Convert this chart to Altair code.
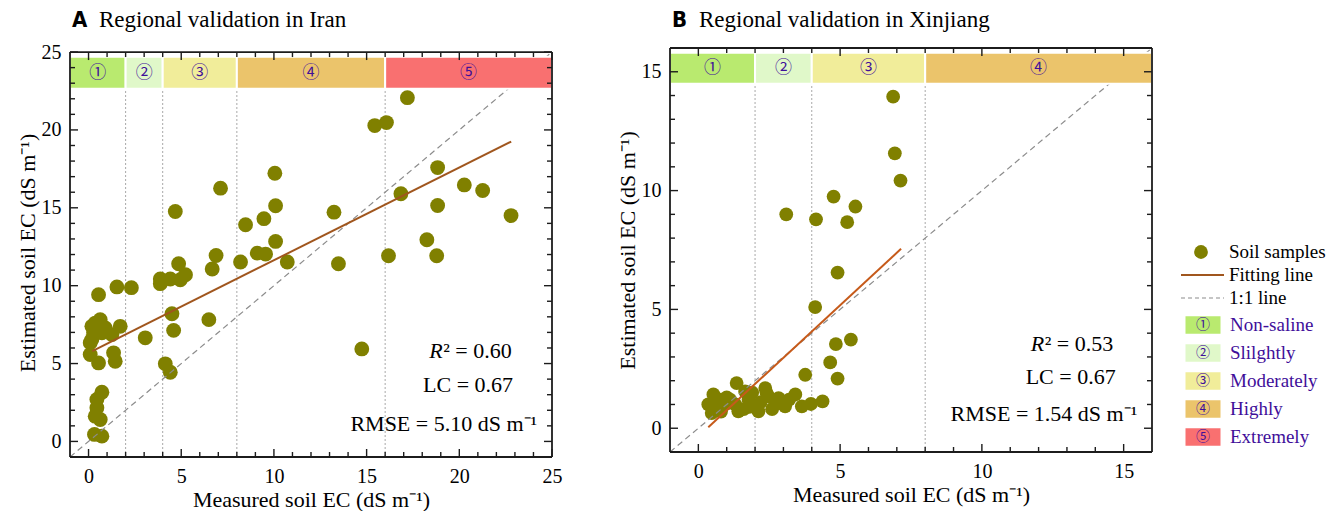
import altair as alt
import pandas as pd

# ---------------- data ----------------
# Panel A (Iran): measured vs estimated soil EC
a_meas = [17.2, 15.44, 16.07, 18.83, 20.27, 21.26, 16.85, 18.83, 22.79, 10.05,
          7.12, 10.09, 13.24, 4.68, 9.46, 8.47, 18.25, 10.09, 6.88, 6.67,
          8.2, 9.1, 9.55, 10.72, 16.18, 13.48, 18.78, 4.86, 5.23, 4.95,
          4.41, 3.87, 3.87, 1.53, 2.31, 0.54, 4.5, 4.59, 6.49, 3.06,
          14.74, 4.14, 4.41, 0.09, 0.09, 0.54, 1.35, 1.44, 0.18, 0.63,
          0.72, 1.26, 1.71, 0.36, 0.27, 0.9, 0.18, 0.72, 0.45, 0.45,
          0.36, 0.63, 0.32, 0.72]
a_est = [22.07, 20.28, 20.47, 17.58, 16.47, 16.11, 15.9, 15.15, 14.5, 17.22,
         16.26, 15.13, 14.72, 14.76, 14.3, 13.91, 12.95, 12.84, 11.94, 11.07,
         11.52, 12.09, 12.03, 11.52, 11.92, 11.41, 11.92, 11.41, 10.7, 10.38,
         10.43, 10.43, 10.13, 9.92, 9.87, 9.42, 8.2, 7.13, 7.82, 6.65,
         5.94, 4.98, 4.44, 6.33, 5.58, 5.04, 5.69, 5.15, 7.39, 7.82,
         6.97, 6.86, 7.39, 7.6, 6.97, 7.29, 6.54, 3.16, 2.69, 2.16,
         1.62, 1.41, 0.45, 0.34]

# Panel B (Xinjiang)
b_meas = [6.87, 6.93, 7.13, 4.77, 5.54, 3.1, 4.15, 5.25, 4.91, 4.12,
          5.38, 4.85, 4.65, 3.77, 4.91, 4.38, 3.97, 3.65, 3.42, 1.35,
          0.53, 0.35, 0.47, 0.94, 1.41, 1.77, 2.36, 2.12, 2.71, 2.47,
          3.06, 1.65, 0.77, 2.0, 1.12, 2.83, 0.6, 1.0, 1.6, 1.9,
          2.2, 2.6, 2.9, 3.2, 1.3, 0.8, 2.4, 1.8]
b_est = [13.95, 11.57, 10.42, 9.75, 9.33, 9.0, 8.79, 8.67, 6.55, 5.1,
         3.73, 3.54, 2.77, 2.25, 2.09, 1.13, 1.02, 0.92, 1.42, 1.9,
         1.42, 1.0, 0.64, 1.0, 0.71, 1.2, 1.69, 0.71, 1.0, 1.34,
         0.92, 1.55, 1.2, 0.92, 1.2, 1.27, 0.9, 1.3, 0.8, 1.5,
         1.1, 0.8, 1.1, 1.2, 1.0, 0.7, 1.5, 0.9]

a_fit_x = [0.2, 22.8]
a_fit_y = [5.8, 19.25]
b_fit_x = [0.35, 7.15]
b_fit_y = [0.04, 7.55]

class_names = ["Non-saline", "Slilghtly", "Moderately", "Highly", "Extremely"]
class_marks = ["\u2460", "\u2461", "\u2462", "\u2463", "\u2464"]
class_colors = ["#b9ea6f", "#e0f8c9", "#f1ed9a", "#ebc46b", "#f97070"]
class_bounds = [-1, 2, 4, 8, 16, 25]

a_stats = ["0.60", "0.67", "5.10"]
b_stats = ["0.53", "0.67", "1.54"]

SERIF = "Liberation Serif"
CJK = "Noto Sans CJK SC"
PURPLE = "#3f0f9a"
OLIVE = "#808000"
GREY = "#8c8c8c"
INK = "#1c1c1c"
W = 482


def panel(meas, est, fit_x, fit_y, lim, ytop, height, nclass, band_y, stats, stat_pos,
          title, letter, pt_size, fit_color):
    xsc = alt.Scale(domain=[-1, lim], nice=False, zero=False)
    ysc = alt.Scale(domain=[-1, ytop], nice=False, zero=False)
    top = lim + 1 if lim == 25 else lim
    major = [v for v in range(0, top) if v % 5 == 0]
    minor = [v for v in range(0, top) if v % 5 != 0]
    lab_common = dict(values=major, ticks=False, tickSize=0, domain=False, grid=False,
                      labelFlush=False, labelOverlap=False, labelFont=SERIF,
                      labelFontSize=20, labelColor="black", titleFont=SERIF,
                      titleFontSize=22, titleFontWeight="normal", titleColor="black")
    ax_b = alt.Axis(orient="bottom", title="Measured soil EC (dS m\u207b\u00b9)",
                    labelPadding=9, titlePadding=3, **lab_common)
    ax_l = alt.Axis(orient="left", title="Estimated soil EC (dS m\u207b\u00b9)",
                    labelPadding=9, titlePadding=2, **lab_common)

    def X(f, axis=None):
        return alt.X(f, scale=xsc, axis=axis)

    def Y(f, axis=None):
        return alt.Y(f, scale=ysc, axis=axis)

    kx = (lim + 1.0) / W
    ky = (ytop + 1.0) / height  # data units per pixel

    # inward ticks on all four frame edges (positions through the scales)
    rows = []
    for vals, ln in ((major, 8), (minor, 5)):
        for v in vals:
            rows.append(dict(tx0=v, tx1=v, ty0=-1, ty1=-1 + ln * ky))
            rows.append(dict(tx0=v, tx1=v, ty0=lim, ty1=lim - ln * ky))
            rows.append(dict(tx0=-1, tx1=-1 + ln * kx, ty0=v, ty1=v))
            rows.append(dict(tx0=lim, tx1=lim - ln * kx, ty0=v, ty1=v))
    ticks = alt.Chart(pd.DataFrame(rows)).mark_rule(stroke=INK, strokeWidth=1.4).encode(
        x=X("tx0:Q"), x2="tx1:Q", y=Y("ty0:Q"), y2="ty1:Q")

    # frame: four edges from (-1,-1) to (lim,lim)
    edge = pd.DataFrame({"ex0": [-1, -1, -1, lim], "ex1": [lim, lim, -1, lim],
                         "ey0": [-1, lim, -1, -1], "ey1": [-1, lim, lim, lim]})
    frame = alt.Chart(edge).mark_rule(stroke=INK, strokeWidth=1.8).encode(
        x=X("ex0:Q"), x2="ex1:Q", y=Y("ey0:Q"), y2="ey1:Q")

    pts = pd.DataFrame({"meas": meas, "est": est})
    points = alt.Chart(pts).mark_circle(size=pt_size, color=OLIVE, opacity=1).encode(
        x=X("meas:Q", ax_b), y=Y("est:Q", ax_l))

    one = pd.DataFrame({"meas": [-1, lim], "est": [-1, lim]})
    oneline = alt.Chart(one).mark_line(color=GREY, strokeDash=[6, 4], strokeWidth=1.2).encode(
        x=X("meas:Q"), y=Y("est:Q"))

    fit = pd.DataFrame({"meas": fit_x, "est": fit_y})
    fitline = alt.Chart(fit).mark_line(color=fit_color, strokeWidth=2).encode(
        x=X("meas:Q"), y=Y("est:Q"))

    lo = class_bounds[:nclass]
    hi = class_bounds[1:nclass + 1]
    bands = pd.DataFrame({
        "lo": lo, "hi": hi, "mid": [(a + b) / 2 for a, b in zip(lo, hi)],
        "y0": [band_y[0]] * nclass, "y1": [band_y[1]] * nclass,
        "ym": [(band_y[0] + band_y[1]) / 2] * nclass,
        "color": class_colors[:nclass], "mark": class_marks[:nclass],
    })
    vl = pd.DataFrame({"b": class_bounds[1:nclass], "y0": [-1] * (nclass - 1),
                       "y1": [band_y[0]] * (nclass - 1)})
    vlines = alt.Chart(vl).mark_rule(color="#a8a8a8", strokeDash=[2, 2], strokeWidth=1).encode(
        x=X("b:Q"), y=Y("y0:Q"), y2="y1:Q")
    rects = alt.Chart(bands).mark_rect(stroke="white", strokeWidth=2).encode(
        x=X("lo:Q"), x2="hi:Q", y=Y("y0:Q"), y2="y1:Q",
        fill=alt.Fill("color:N", scale=None))
    nums = alt.Chart(bands).mark_text(font=CJK, fontSize=17, color=PURPLE).encode(
        x=X("mid:Q"), y=Y("ym:Q"), text="mark:N")

    rx, ry, lx, ly, mx, my = stat_pos
    r_df = pd.DataFrame({"x": [rx], "y": [ry], "t": ["R"], "u": ["\u00b2 = " + stats[0]]})
    r_it = alt.Chart(r_df).mark_text(font=SERIF, fontSize=22, fontStyle="italic",
                                     align="left", color="black").encode(
        x=X("x:Q"), y=Y("y:Q"), text="t:N")
    r_rest = alt.Chart(r_df).mark_text(font=SERIF, fontSize=22, align="left", dx=14,
                                       color="black").encode(
        x=X("x:Q"), y=Y("y:Q"), text="u:N")
    o_df = pd.DataFrame({"x": [lx, mx], "y": [ly, my],
                         "t": ["LC = " + stats[1], "RMSE = " + stats[2] + " dS m\u207b\u00b9"]})
    others = alt.Chart(o_df).mark_text(font=SERIF, fontSize=22, align="right",
                                       color="black").encode(
        x=X("x:Q"), y=Y("y:Q"), text="t:N")

    let = alt.Chart(pd.DataFrame({"t": [letter]})).mark_text(
        font="DejaVu Sans Condensed", fontSize=22, fontWeight="bold", align="left",
        baseline="middle", color="black").encode(
        x=alt.value(2), y=alt.value(-28), text="t:N")
    ttl = alt.Chart(pd.DataFrame({"t": [title]})).mark_text(
        font=SERIF, fontSize=23, align="left", baseline="middle", color="black").encode(
        x=alt.value(29), y=alt.value(-28), text="t:N")

    return alt.layer(
        vlines, points, oneline, fitline, rects, nums, ticks, frame,
        r_it, r_rest, others, let, ttl
    ).resolve_axis(x="independent", y="independent").properties(width=W, height=height)


# Panel A frame sits 4 px lower than panel B's in the reference
pa = panel(a_meas, a_est, a_fit_x, a_fit_y, 25, 25.26, 409, 5, (22.65, 24.7), a_stats,
           (18.38, 5.79, 22.9, 3.65, 24.2, 1.15),
           "Regional validation in Iran", "A", 220, "#a0561e")
pb = panel(b_meas, b_est, b_fit_x, b_fit_y, 16, 16, 404, 4, (14.5, 15.8), b_stats,
           (11.72, 3.53, 14.72, 2.14, 15.48, 0.59),
           "Regional validation in Xinjiang", "B", 190, "#c65a1a")

# ---------------- legend ----------------
leg_top = ["Soil samples", "Fitting line", "1:1 line"]
top_y = alt.Y("item:N", sort=leg_top, axis=None,
              scale=alt.Scale(type="point", domain=leg_top, padding=0, range=[204, 250]))
cls_y = alt.Y("name:N", sort=class_names, axis=None,
              scale=alt.Scale(type="point", domain=class_names, padding=0, range=[277, 389]))

l_circle = alt.Chart(pd.DataFrame({"item": [leg_top[0]]})).mark_circle(
    size=190, color=OLIVE, opacity=1).encode(x=alt.value(20), y=top_y)
l_fit = alt.Chart(pd.DataFrame({"item": [leg_top[1]]})).mark_rule(
    color="#a0561e", strokeWidth=2).encode(x=alt.value(0), x2=alt.value(43), y=top_y)
l_one = alt.Chart(pd.DataFrame({"item": [leg_top[2]]})).mark_rule(
    color=GREY, strokeWidth=1.2, strokeDash=[4, 3]).encode(x=alt.value(0), x2=alt.value(43), y=top_y)
l_toptxt = alt.Chart(pd.DataFrame({"item": leg_top})).mark_text(
    font=SERIF, fontSize=19, align="left", color="black").encode(
    x=alt.value(48), y=top_y, text="item:N")

cls_df = pd.DataFrame({"name": class_names, "mark": class_marks, "color": class_colors})
l_sq = alt.Chart(cls_df).mark_point(
    shape="M-1,-0.5L1,-0.5L1,0.5L-1,0.5Z", filled=True, size=1225, opacity=1).encode(
    x=alt.value(22), y=cls_y, fill=alt.Fill("color:N", scale=None))
l_num = alt.Chart(cls_df).mark_text(font=CJK, fontSize=14, color=PURPLE).encode(
    x=alt.value(22), y=cls_y, text="mark:N")
l_txt = alt.Chart(cls_df).mark_text(font=SERIF, fontSize=19, align="left", color=PURPLE).encode(
    x=alt.value(49), y=cls_y, text="name:N")

legend = alt.layer(l_circle, l_fit, l_one, l_toptxt, l_sq, l_num, l_txt).resolve_scale(
    y="independent").properties(width=130, height=404)

chart = alt.hconcat(
    pa, alt.hconcat(pb, legend, spacing=24), spacing=52
).properties(
    padding={"left": 7, "top": 0, "right": 0, "bottom": 0}
).configure_view(stroke="transparent")

chart.save("out.html", embed_options={"renderer": "svg", "actions": False})
